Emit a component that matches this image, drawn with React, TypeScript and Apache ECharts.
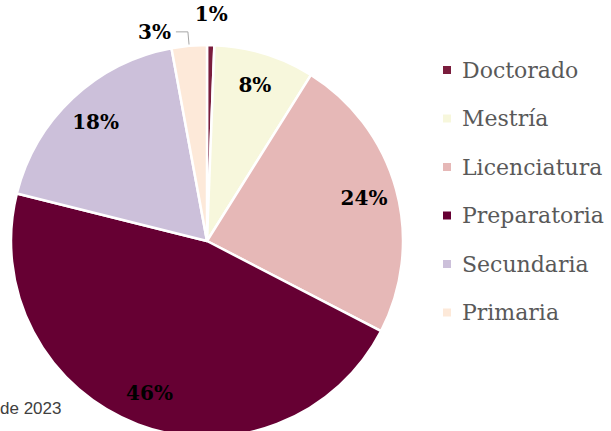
import React, { useEffect, useRef } from 'react';
import * as echarts from 'echarts';

const categories = ['Doctorado', 'Mestría', 'Licenciatura', 'Preparatoria', 'Secundaria', 'Primaria'];
const shares = [0.6, 8.3, 23.7, 46.3, 18.2, 2.9];
const colors = ['#7a1d3d', '#f7f7dc', '#e6b8b7', '#660033', '#ccc0da', '#fde9d9'];
const insideLabelled = ['Mestría', 'Licenciatura', 'Preparatoria', 'Secundaria'];
const aboveLabelled = ['Doctorado'];
const leaderLabelled = ['Primaria'];
const sourceNote = 'de 2023';

const CX = 207;
const CY = 241;
const R = 196;

const labelStyle = {
  fontFamily: 'DejaVu Serif',
  fontWeight: 'bold' as const,
  fontSize: 20,
  color: '#000000',
};

const fmt = (p: any) => `${Math.round(p.value)}%`;

export default function App() {
  const ref = useRef<HTMLDivElement>(null);

  useEffect(() => {
    if (!ref.current) return;
    const chart = echarts.init(ref.current, undefined, { renderer: 'svg' });

    const mainData = categories.map((name, i) => {
      const lead = leaderLabelled.includes(name);
      return {
        name,
        value: shares[i],
        itemStyle: { color: colors[i] },
        label: lead ? { show: true } : { show: false },
        labelLine: lead ? { show: true } : { show: false },
      };
    });

    const overlayData = (shown: string[]) =>
      categories.map((name, i) => ({
        name,
        value: shares[i],
        label: { show: shown.includes(name) },
      }));

    const overlayBase = {
      type: 'pie' as const,
      center: [CX, CY],
      startAngle: 90,
      clockwise: true,
      silent: true,
      avoidLabelOverlap: false,
      itemStyle: { color: 'rgba(0,0,0,0)', borderWidth: 0 },
      emphasis: { disabled: true },
      labelLine: { show: false },
    };

    chart.setOption({
      animation: false,
      backgroundColor: '#ffffff',
      legend: {
        orient: 'vertical',
        left: 436,
        top: 53,
        icon: 'rect',
        itemWidth: 10,
        itemHeight: 10,
        itemGap: 24.5,
        selectedMode: false,
        textStyle: {
          fontFamily: 'DejaVu Serif',
          fontSize: 22,
          color: '#595959',
          lineHeight: 24,
          padding: [0, 0, 0, 5],
        },
        data: categories.map((name, i) => ({ name, itemStyle: { color: colors[i] } })),
      },
      graphic: [
        {
          type: 'text',
          left: 0,
          top: 400,
          style: {
            text: sourceNote,
            font: '17px "Liberation Sans"',
            fill: '#404040',
          },
        },
      ],
      series: [
        {
          type: 'pie',
          center: [CX, CY],
          radius: [0, R],
          startAngle: 90,
          clockwise: true,
          silent: true,
          avoidLabelOverlap: false,
          emphasis: { disabled: true },
          itemStyle: { borderColor: '#ffffff', borderWidth: 2.5 },
          label: { show: false, position: 'outside', formatter: fmt, ...labelStyle },
          labelLine: {
            show: false,
            length: 14,
            length2: 12,
            lineStyle: { color: '#a6a6a6', width: 1 },
          },
          data: mainData,
        },
        {
          ...overlayBase,
          radius: [0, R * 1.63],
          label: { show: true, position: 'inside', formatter: fmt, ...labelStyle },
          data: overlayData(insideLabelled),
        },
        {
          ...overlayBase,
          radius: [R + 10, R + 46],
          label: { show: true, position: 'inside', formatter: fmt, ...labelStyle },
          data: overlayData(aboveLabelled),
        },
      ],
    });

    return () => chart.dispose();
  }, []);

  return (
    <div
      ref={ref}
      style={{ position: 'absolute', left: 0, top: 0, width: 611, height: 431 }}
    />
  );
}
